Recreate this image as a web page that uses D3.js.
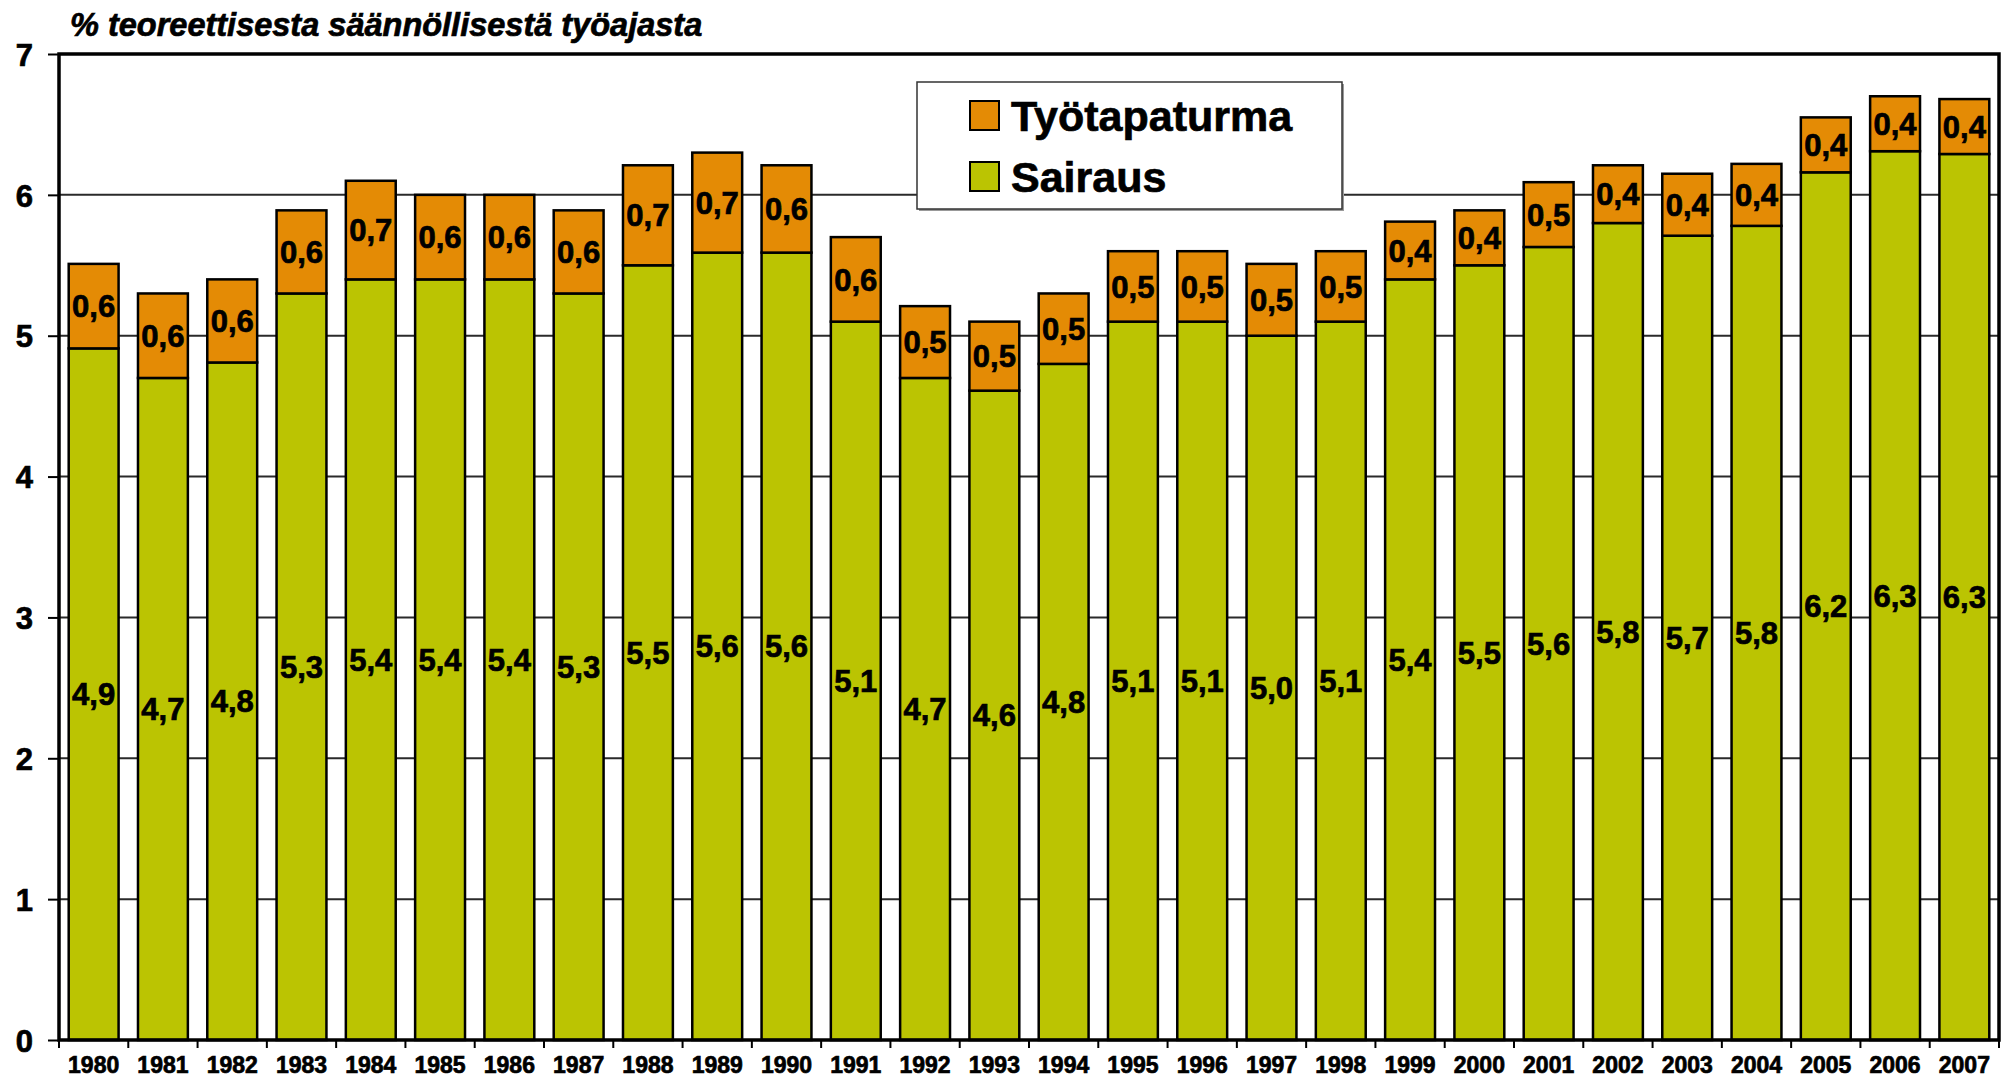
<!DOCTYPE html>
<html>
<head>
<meta charset="utf-8">
<script src="https://cdnjs.cloudflare.com/ajax/libs/d3/7.8.5/d3.min.js"></script>
<style>
  body { margin: 0; background: #fff; }
  text { font-family: 'Liberation Sans', Arial, sans-serif; font-weight: bold; fill: #000; stroke: #000; stroke-width: 0.7px; }
</style>
</head>
<body>
<div class="visHolder"></div>
<script>
const years = d3.range(1980, 2008).map(String);
const sairaus = [4.91, 4.70, 4.81, 5.30, 5.40, 5.40, 5.40, 5.30, 5.50, 5.59, 5.59, 5.10, 4.70, 4.61,
  4.80, 5.10, 5.10, 5.00, 5.10, 5.40, 5.50, 5.63, 5.80, 5.71, 5.78, 6.16, 6.31, 6.29];
const tyotapaturma = [0.60, 0.60, 0.59, 0.59, 0.70, 0.60, 0.60, 0.59, 0.71, 0.71, 0.62, 0.60, 0.51, 0.49,
  0.50, 0.50, 0.50, 0.51, 0.50, 0.41, 0.39, 0.46, 0.41, 0.44, 0.44, 0.39, 0.39, 0.39];
const seriesNames = ['Työtapaturma', 'Sairaus'];
const yTicks = [0, 1, 2, 3, 4, 5, 6, 7];
const titleText = '% teoreettisesta säännöllisestä työajasta';

const W = 2009;
const H = 1084;
const plotLeft = 59, plotRight = 1999, plotTop = 54, plotBottom = 1040;
const colors = { 'Sairaus': '#bbc402', 'Työtapaturma': '#e48b05' };
const fontFam = "'Liberation Sans', Arial, sans-serif";

const svg = d3.select('.visHolder')
  .append('svg')
  .attr('width', W)
  .attr('height', H);

const data = years.map((y, i) => ({ year: y, Sairaus: sairaus[i], 'Työtapaturma': tyotapaturma[i] }));

const xScale = d3.scaleBand()
  .domain(years)
  .range([plotLeft, plotRight])
  .paddingInner(0.28)
  .paddingOuter(0.14);

const yScale = d3.scaleLinear()
  .domain([0, 7])
  .range([plotBottom, plotTop]);

// gridlines
svg.append('g')
  .selectAll('line')
  .data(yTicks.filter(v => v > 0 && v < 7))
  .enter()
  .append('line')
  .attr('x1', plotLeft)
  .attr('x2', plotRight)
  .attr('y1', d => yScale(d))
  .attr('y2', d => yScale(d))
  .style('stroke', '#2a2a2a')
  .style('stroke-width', 2);

// y axis
const yAxis = d3.axisLeft(yScale)
  .tickValues(yTicks)
  .tickFormat(d3.format('d'))
  .tickSizeInner(11)
  .tickSizeOuter(0)
  .tickPadding(15);
const gy = svg.append('g')
  .attr('transform', 'translate(' + plotLeft + ',0)')
  .call(yAxis);
gy.select('.domain').remove();
gy.selectAll('line').style('stroke', '#000').style('stroke-width', 2);
gy.selectAll('text')
  .style('font-size', '31px')
  .style('font-family', fontFam)
  .style('font-weight', 'bold')
  .attr('dy', '0.36em');

// stacked bars
const stack = d3.stack().keys(['Sairaus', 'Työtapaturma']);
const layers = stack(data);
const fmt = v => d3.format('.1f')(v).replace('.', ',');

const layerG = svg.selectAll('.layer')
  .data(layers)
  .enter()
  .append('g')
  .attr('class', 'layer')
  .style('fill', d => colors[d.key]);

layerG.selectAll('rect')
  .data(d => d)
  .enter()
  .append('rect')
  .attr('x', d => xScale(d.data.year))
  .attr('width', xScale.bandwidth())
  .attr('y', d => yScale(d[1]))
  .attr('height', d => yScale(d[0]) - yScale(d[1]))
  .style('stroke', '#000')
  .style('stroke-width', 2.5);

svg.selectAll('.layer').each(function (layer) {
  d3.select(this).selectAll('text')
    .data(layer)
    .enter()
    .append('text')
    .attr('x', d => xScale(d.data.year) + xScale.bandwidth() / 2)
    .attr('y', d => (yScale(d[0]) + yScale(d[1])) / 2)
    .attr('dy', '0.36em')
    .attr('text-anchor', 'middle')
    .style('font-size', '31px')
    .style('fill', '#000')
    .text(d => fmt(d.data[layer.key]));
});

// frame
svg.append('rect')
  .attr('x', plotLeft)
  .attr('y', plotTop)
  .attr('width', plotRight - plotLeft)
  .attr('height', plotBottom - plotTop)
  .style('fill', 'none')
  .style('stroke', '#000')
  .style('stroke-width', 3.5);

// x axis ticks at band boundaries
const step = xScale.step();
const x0 = xScale(years[0]) - step * xScale.paddingOuter();
svg.append('g')
  .selectAll('line')
  .data(d3.range(years.length + 1))
  .enter()
  .append('line')
  .attr('x1', i => x0 + i * step)
  .attr('x2', i => x0 + i * step)
  .attr('y1', plotBottom)
  .attr('y2', plotBottom + 8)
  .style('stroke', '#000')
  .style('stroke-width', 2);

const xAxis = d3.axisBottom(xScale).tickSize(0).tickPadding(0);
const gx = svg.append('g')
  .attr('transform', 'translate(0,' + plotBottom + ')')
  .call(xAxis);
gx.select('.domain').remove();
gx.selectAll('text')
  .attr('y', 33)
  .attr('dy', 0)
  .style('font-size', '23px')
  .style('font-family', fontFam)
  .style('font-weight', 'bold');

// title
svg.append('text')
  .attr('x', 70)
  .attr('y', 36)
  .style('font-size', '32.5px')
  .style('font-style', 'italic')
  .text(titleText);

// legend
const legend = svg.append('g').attr('id', 'legend');
legend.append('rect')
  .attr('x', 919)
  .attr('y', 84)
  .attr('width', 425)
  .attr('height', 127)
  .style('fill', '#999');
legend.append('rect')
  .attr('x', 917)
  .attr('y', 82)
  .attr('width', 425)
  .attr('height', 127)
  .style('fill', '#fff')
  .style('stroke', '#333')
  .style('stroke-width', 1.5);

const legendRows = legend.selectAll('.row')
  .data(seriesNames)
  .enter()
  .append('g')
  .attr('class', 'row')
  .attr('transform', (d, i) => 'translate(970,' + (101 + i * 61) + ')');

legendRows.append('rect')
  .attr('width', 29)
  .attr('height', 29)
  .style('fill', d => colors[d])
  .style('stroke', '#000')
  .style('stroke-width', 2);

legendRows.append('text')
  .attr('x', 41)
  .attr('y', 30)
  .style('font-size', '43px')
  .text(d => d);
</script>
</body>
</html>
